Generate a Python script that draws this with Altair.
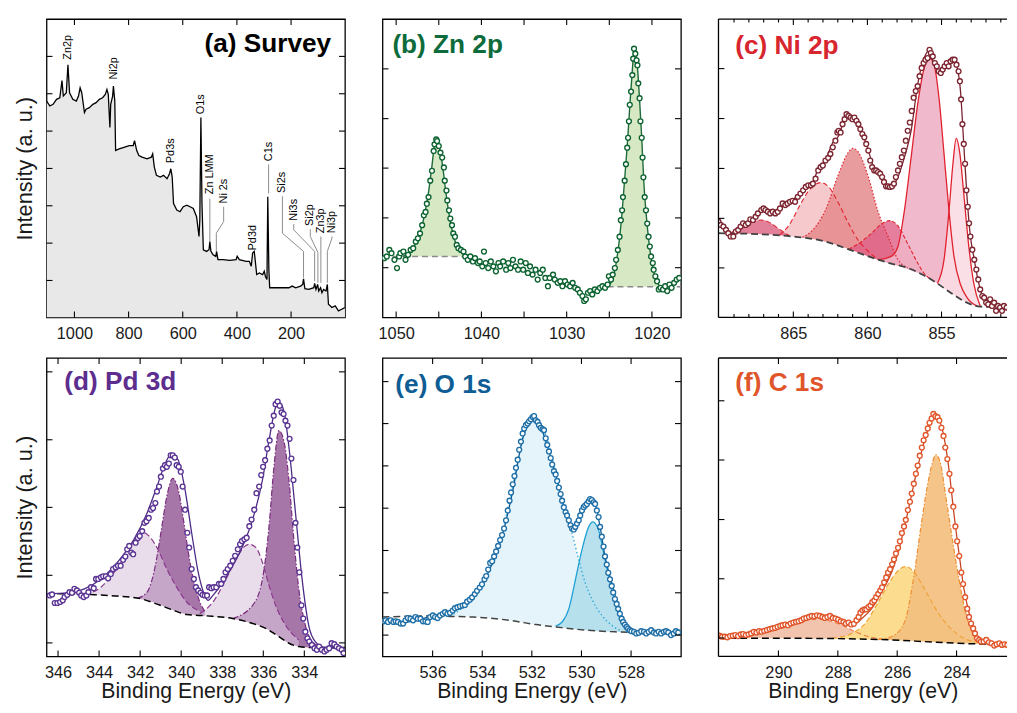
import altair as alt
import pandas as pd

FONT = "Liberation Sans"
INK = "#1a1a1a"

# ---------------- (a) Survey ----------------
survey_pts = [(1103, 655), (1091, 640), (1079, 645), (1066, 660), (1054, 665), (1046, 717), (1041, 670), (1030, 680),
              (1024, 765), (1018, 680), (1006, 660), (993, 655), (985, 670), (979, 695), (973, 680), (963, 620),
              (957, 630), (945, 635), (932, 645), (920, 650), (908, 660), (896, 665), (886, 675), (880, 690),
              (875, 675), (872, 625), (869, 575), (866, 645), (859, 670), (856, 700), (851, 655), (848, 505),
              (835, 510), (817, 515), (798, 520), (783, 520), (778, 535), (770, 505), (762, 490), (750, 485),
              (732, 480), (716, 485), (711, 495), (705, 455), (697, 430), (683, 425), (671, 430), (658, 420),
              (649, 435), (644, 450), (639, 425), (634, 345), (622, 325), (610, 320), (598, 335), (585, 340),
              (573, 335), (561, 330), (549, 305), (540, 245), (537, 295), (533, 605), (529, 345), (524, 205),
              (512, 200), (503, 205), (500, 230), (496, 200), (488, 190), (478, 185), (475, 200), (470, 175),
              (451, 175), (427, 173), (403, 175), (399, 185), (391, 175), (366, 170), (354, 170), (347, 155),
              (342, 195), (336, 200), (332, 170), (327, 130), (317, 135), (305, 130), (299, 140), (295, 125),
              (289, 115), (286, 365), (282, 145), (279, 90), (257, 90), (232, 90), (208, 90), (196, 95),
              (183, 90), (165, 95), (157, 100), (154, 117), (149, 87), (135, 85), (116, 90), (113, 103),
              (108, 85), (102, 100), (98, 80), (91, 90), (86, 75), (80, 85), (71, 80), (66, 100), (62, 40),
              (49, 30), (37, 35), (25, 20), (13, 25), (1, 30)]
survey_labels = [("Zn2p", 1024, 780), ("Ni2p", 853, 720), ("Pd3s", 644, 467), ("O1s", 533, 615),
                 ("Zn LMM", 500, 373), ("Ni 2s", 449, 345), ("Pd3d", 342, 203), ("C1s", 283, 473),
                 ("Si2s", 232, 377), ("Ni3s", 190, 293), ("Si2p", 129, 277), ("Zn3p", 90, 255), ("Ni3p", 49, 255)]
survey_leaders = {
    "Zn LMM": [(500, 360), (500, 230)],
    "Ni 2s": [(449, 335), (449, 290), (476, 255), (476, 200)],
    "C1s": [(283, 463), (283, 375)],
    "Si2s": [(232, 367), (232, 255), (154, 200), (154, 120)],
    "Ni3s": [(190, 283), (190, 265), (113, 200), (113, 110)],
    "Si2p": [(129, 267), (129, 245), (101, 197), (101, 105)],
    "Zn3p": [(90, 245), (90, 105)],
    "Ni3p": [(49, 245), (49, 240), (66, 200), (66, 105)],
}
survey_xticks = [1000, 800, 600, 400, 200]
survey_yticks = [112, 225, 338, 451, 564, 677, 790]

# ---------------- (b) Zn 2p ----------------
zn_pts = [(1051.4, 180), (1051.1, 185), (1050.8, 205), (1050.55, 195), (1050.2, 175), (1049.9, 150), (1049.65, 185),
          (1049.5, 195), (1049.15, 200), (1048.9, 175), (1048.6, 190), (1048.3, 205), (1048.0, 210), (1047.7, 230),
          (1047.45, 240), (1047.2, 255), (1046.95, 280), (1046.75, 310), (1046.55, 320), (1046.4, 345), (1046.2, 365),
          (1046.0, 415), (1045.8, 445), (1045.6, 505), (1045.5, 525), (1045.3, 540), (1045.2, 535), (1045.0, 520),
          (1044.8, 500), (1044.6, 485), (1044.4, 455), (1044.3, 415), (1044.1, 385), (1044.0, 355), (1043.8, 325),
          (1043.65, 300), (1043.45, 280), (1043.3, 255), (1043.1, 245), (1042.9, 220), (1042.7, 210), (1042.4, 205),
          (1042.1, 200), (1041.9, 185), (1041.6, 175), (1041.3, 185), (1041.0, 170), (1040.75, 180), (1040.4, 165),
          (1040.2, 170), (1039.9, 155), (1039.7, 200), (1039.5, 165), (1039.2, 150), (1038.9, 170), (1038.6, 155),
          (1038.3, 140), (1038.0, 165), (1037.8, 155), (1037.45, 170), (1037.1, 145), (1036.85, 165), (1036.6, 150),
          (1036.3, 175), (1036.0, 155), (1035.7, 145), (1035.4, 170), (1035.1, 145), (1034.8, 165), (1034.55, 135),
          (1034.3, 155), (1034.0, 130), (1033.65, 145), (1033.4, 115), (1033.1, 135), (1032.8, 145), (1032.5, 120),
          (1032.2, 95), (1032.0, 120), (1031.6, 130), (1031.4, 115), (1031.05, 105), (1030.75, 110), (1030.5, 95),
          (1030.2, 110), (1029.9, 100), (1029.6, 95), (1029.3, 105), (1029.0, 90), (1028.7, 85), (1028.45, 75),
          (1028.15, 65), (1027.95, 50), (1027.75, 55), (1027.5, 75), (1027.25, 80), (1027.0, 70), (1026.7, 85),
          (1026.4, 80), (1026.1, 90), (1025.8, 95), (1025.5, 90), (1025.2, 100), (1025.05, 125), (1024.8, 115),
          (1024.6, 130), (1024.35, 150), (1024.2, 175), (1024.0, 205), (1023.8, 245), (1023.65, 295), (1023.5, 325),
          (1023.4, 365), (1023.2, 415), (1023.05, 465), (1022.9, 515), (1022.8, 545), (1022.7, 595), (1022.6, 645),
          (1022.45, 685), (1022.3, 735), (1022.2, 785), (1022.1, 815), (1021.95, 800), (1021.8, 780), (1021.7, 765),
          (1021.6, 710), (1021.45, 665), (1021.35, 595), (1021.2, 545), (1021.1, 485), (1021.0, 425), (1020.85, 365),
          (1020.7, 325), (1020.55, 285), (1020.4, 245), (1020.25, 215), (1020.1, 185), (1019.9, 165), (1019.8, 145),
          (1019.6, 125), (1019.4, 110), (1019.2, 85), (1019.0, 90), (1018.7, 85), (1018.45, 95), (1018.2, 80),
          (1017.95, 100), (1017.7, 90), (1017.4, 105), (1017.1, 115), (1016.8, 120)]
zn_fit1 = [(1049.2, 186, 185), (1048.6, 192, 185), (1048.0, 212, 185), (1047.5, 235, 185), (1047.0, 275, 185),
           (1046.6, 320, 185), (1046.2, 380, 185), (1045.8, 460, 185), (1045.5, 525, 185), (1045.3, 540, 185),
           (1045.05, 530, 185), (1044.8, 500, 185), (1044.5, 450, 185), (1044.2, 385, 185), (1043.9, 330, 185),
           (1043.6, 285, 185), (1043.3, 250, 185), (1043.0, 225, 185), (1042.6, 205, 185), (1042.1, 192, 185),
           (1041.5, 186, 185), (1041.3, 185, 185)]
zn_fit2 = [(1025.2, 93, 93), (1024.6, 118, 93), (1024.2, 165, 93), (1023.8, 240, 93), (1023.5, 320, 93),
           (1023.2, 420, 93), (1022.9, 520, 93), (1022.6, 640, 93), (1022.3, 750, 93), (1022.1, 810, 93),
           (1021.95, 812, 93), (1021.7, 760, 93), (1021.45, 660, 93), (1021.2, 545, 93), (1020.95, 410, 93),
           (1020.7, 320, 93), (1020.4, 240, 93), (1020.1, 180, 93), (1019.8, 140, 93), (1019.5, 112, 93),
           (1019.1, 96, 93), (1018.8, 93, 93)]
zn_bg_left = [(1051.6, 185), (1041.3, 185)]
zn_bg_right = [(1025.2, 93), (1016.6, 93)]
zn_xmajor = [1050, 1040, 1030, 1020]
zn_xminor = [1045, 1035, 1025]
zn_yticks = [151, 302, 453, 603, 754]

# ---------------- (c) Ni 2p ----------------
ni_pts = [(870.05, 290), (869.9, 280), (869.72, 275), (869.54, 265), (869.39, 255), (869.23, 245), (869.05, 245),
          (868.88, 260), (868.72, 265), (868.56, 275), (868.39, 285), (868.21, 280), (868.05, 285), (867.9, 297),
          (867.72, 295), (867.54, 305), (867.39, 315), (867.16, 325), (867.01, 330), (866.88, 325), (866.72, 320),
          (866.56, 315), (866.39, 320), (866.21, 315), (866.05, 320), (865.9, 330), (865.72, 345), (865.54, 340),
          (865.39, 345), (865.23, 350), (865.05, 353), (864.88, 350), (864.7, 365), (864.52, 375), (864.34, 385),
          (864.16, 395), (863.99, 400), (863.81, 400), (863.68, 405), (863.5, 420), (863.32, 445), (863.16, 455),
          (863.01, 460), (862.83, 475), (862.65, 483), (862.5, 495), (862.34, 515), (862.16, 535), (862.03, 560),
          (861.94, 565), (861.81, 560), (861.68, 585), (861.54, 600), (861.41, 615), (861.28, 610), (861.14, 605),
          (861.01, 600), (860.88, 605), (860.74, 595), (860.61, 585), (860.48, 570), (860.34, 555), (860.21, 545),
          (860.08, 525), (859.94, 505), (859.81, 475), (859.68, 455), (859.54, 445), (859.41, 445), (859.28, 440),
          (859.14, 435), (859.01, 425), (858.88, 410), (858.74, 397), (858.61, 397), (858.48, 395), (858.34, 397),
          (858.21, 405), (858.08, 425), (857.94, 445), (857.81, 465), (857.68, 485), (857.54, 505), (857.41, 535),
          (857.28, 565), (857.14, 590), (857.01, 625), (856.88, 665), (856.74, 685), (856.61, 700), (856.48, 730),
          (856.34, 755), (856.21, 770), (856.08, 780), (855.94, 785), (855.81, 810), (855.72, 800), (855.59, 790),
          (855.45, 770), (855.32, 760), (855.19, 745), (855.05, 740), (854.92, 750), (854.79, 760), (854.65, 770),
          (854.52, 760), (854.39, 775), (854.25, 780), (854.12, 780), (853.99, 765), (853.85, 745), (853.76, 715),
          (853.68, 660), (853.59, 585), (853.5, 525), (853.41, 465), (853.32, 385), (853.23, 335), (853.14, 285),
          (853.05, 245), (852.92, 205), (852.79, 175), (852.65, 145), (852.52, 115), (852.39, 85), (852.25, 65),
          (852.12, 60), (851.99, 45), (851.85, 40), (851.72, 55), (851.59, 35), (851.45, 45), (851.32, 20),
          (851.19, 35), (851.05, 30), (850.92, 20), (850.79, 35), (850.6, 30), (850.4, 25), (850.2, 32), (850.0, 28)]
ni_env = [(870.05, 285), (869.5, 265), (869.05, 250), (868.39, 275), (867.28, 320), (866.94, 330), (866.16, 320),
          (865.72, 340), (865.05, 355), (864.39, 385), (863.72, 405), (863.28, 455), (862.83, 475), (862.39, 525),
          (861.94, 550), (861.5, 605), (861.28, 615), (860.83, 600), (860.39, 565), (859.94, 505), (859.5, 445),
          (859.05, 425), (858.61, 395), (858.28, 400), (857.94, 425), (857.5, 485), (857.05, 565), (856.61, 705),
          (856.17, 785), (855.83, 808), (855.5, 765), (855.05, 745), (854.61, 765), (854.16, 775), (853.94, 755),
          (853.72, 685), (853.5, 525), (853.28, 365), (853.05, 245), (852.83, 185), (852.61, 130), (852.28, 70),
          (851.72, 45), (851.28, 33), (850.72, 30), (850.0, 30)]
ni_bg = [(870.05, 255), (867.28, 252), (865.05, 245), (862.83, 230), (861.5, 210), (859.94, 185), (858.39, 163),
         (857.28, 150), (856.17, 127), (855.28, 103), (854.39, 75), (853.28, 45), (852.39, 33), (850.0, 31)]
ni_p1 = [(869.28, 255, 254), (868.61, 270, 253), (867.94, 287, 253), (867.16, 295, 252), (866.5, 285, 251),
         (865.94, 267, 249), (865.28, 248, 246)]
ni_p2 = [(865.94, 249, 249), (865.28, 280, 246), (864.61, 335, 243), (863.94, 385, 239), (863.16, 408, 233),
         (862.61, 395, 227), (861.94, 345, 218), (861.28, 285, 207), (860.61, 233, 197), (859.94, 200, 185),
         (859.28, 175, 175)]
ni_p3 = [(864.39, 243, 243), (863.72, 263, 238), (862.83, 325, 230), (861.94, 435, 218), (861.28, 500, 207),
         (860.99, 512, 203), (860.61, 500, 197), (859.94, 425, 185), (859.28, 320, 175), (858.61, 245, 166),
         (857.94, 175, 157), (857.28, 150, 150)]
ni_p4 = [(861.28, 207, 207), (860.61, 223, 197), (859.72, 255, 182), (859.05, 283, 172), (858.5, 293, 164),
         (857.94, 277, 157), (857.28, 223, 150), (856.61, 165, 137), (856.17, 133, 127), (855.61, 113, 113)]
ni_p5 = [(859.28, 175, 175), (858.39, 185, 163), (857.94, 215, 157), (857.5, 325, 150), (857.05, 485, 142),
         (856.61, 645, 135), (856.17, 755, 127), (855.83, 785, 119), (855.5, 765, 110), (855.16, 660, 100),
         (854.83, 495, 89), (854.5, 325, 79), (854.16, 185, 69), (853.72, 100, 57), (853.28, 60, 45),
         (852.61, 35, 35)]
ni_p6 = [(855.28, 103, 103), (854.83, 175, 89), (854.5, 320, 79), (854.23, 465, 71), (854.01, 542, 65),
         (853.76, 495, 58), (853.5, 375, 50), (853.16, 215, 42), (852.83, 105, 37), (852.39, 35, 33)]
ni_xmajor = [865, 860, 855]
ni_xminor = [869, 868, 867, 866, 864, 863, 862, 861, 859, 858, 857, 856, 854, 853, 852, 851]
ni_yticks = [150, 300, 451, 602, 753]

# ---------------- (d) Pd 3d ----------------
pd_pts = [(346.40, 185), (346.29, 188), (346.16, 162), (346.03, 162), (345.90, 165), (345.77, 170), (345.68, 180),
          (345.55, 187), (345.44, 195), (345.32, 193), (345.20, 205), (345.08, 200), (344.97, 193), (344.87, 185),
          (344.75, 180), (344.62, 185), (344.52, 195), (344.39, 210), (344.26, 207), (344.15, 235), (344.04, 235),
          (343.91, 240), (343.80, 243), (343.67, 243), (343.56, 237), (343.43, 250), (343.32, 265), (343.19, 270),
          (343.08, 275), (342.95, 275), (342.83, 293), (342.72, 303), (342.63, 325), (342.53, 335), (342.43, 315),
          (342.34, 310), (342.22, 345), (342.11, 359), (342.02, 365), (341.90, 380), (341.79, 405), (341.69, 410),
          (341.58, 420), (341.47, 445), (341.37, 450), (341.26, 465), (341.18, 500), (341.08, 515), (340.99, 545),
          (340.89, 570), (340.79, 580), (340.70, 575), (340.60, 585), (340.51, 610), (340.41, 610), (340.31, 603),
          (340.22, 580), (340.12, 575), (340.02, 560), (339.93, 515), (339.81, 445), (339.70, 375), (339.61, 330),
          (339.49, 265), (339.38, 235), (339.28, 210), (339.17, 200), (339.06, 193), (338.96, 187), (338.85, 185),
          (338.74, 185), (338.64, 210), (338.53, 207), (338.42, 210), (338.29, 210), (338.16, 220), (338.05, 220),
          (337.94, 235), (337.84, 255), (337.73, 265), (337.61, 275), (337.49, 290), (337.37, 305), (337.24, 325),
          (337.13, 340), (337.04, 350), (336.92, 355), (336.81, 360), (336.68, 395), (336.57, 415), (336.44, 445),
          (336.33, 495), (336.20, 515), (336.10, 550), (336.01, 575), (335.91, 595), (335.80, 630), (335.69, 655),
          (335.59, 700), (335.49, 730), (335.40, 765), (335.30, 773), (335.20, 760), (335.11, 740), (335.01, 735),
          (334.92, 715), (334.82, 700), (334.72, 660), (334.63, 600), (334.53, 535), (334.43, 405), (334.34, 330),
          (334.24, 255), (334.14, 155), (334.05, 115), (333.95, 75), (333.85, 55), (333.76, 45), (333.63, 35),
          (333.50, 25), (333.39, 20), (333.28, 30), (333.15, 20), (333.02, 15), (332.91, 20), (332.79, 25),
          (332.67, 40), (332.54, 37), (332.43, 30), (332.31, 25), (332.18, 20), (332.09, 10)]
pd_env = [(346.56, 190), (345.52, 193), (344.71, 205), (343.91, 235), (343.11, 285), (342.30, 355), (341.66, 435),
          (341.18, 515), (340.78, 585), (340.46, 615), (340.14, 595), (339.81, 505), (339.49, 375), (339.17, 255),
          (338.85, 185), (338.69, 170), (338.45, 185), (337.97, 225), (337.49, 275), (337.00, 335), (336.52, 415),
          (336.04, 535), (335.72, 655), (335.40, 755), (335.24, 770), (335.00, 745), (334.75, 635), (334.43, 435),
          (334.11, 235), (333.79, 95), (333.47, 45), (332.99, 27), (332.02, 25)]
pd_bg = [(346.56, 190), (345.52, 190), (344.23, 187), (343.11, 183), (341.98, 175), (341.02, 155), (340.38, 140),
         (339.73, 127), (338.77, 123), (337.49, 115), (336.52, 100), (335.88, 85), (335.24, 60), (334.75, 40),
         (334.27, 30), (333.63, 27), (332.02, 27)]
pd_pa = [(344.71, 188, 188), (343.91, 210, 186), (343.27, 255, 184), (342.63, 315, 180), (342.14, 360, 176),
         (341.82, 375, 173), (341.50, 360, 167), (341.18, 330, 159), (340.70, 265, 147), (340.22, 210, 137),
         (339.73, 165, 127), (339.09, 137, 124)]
pd_pb = [(342.14, 176, 176), (341.66, 195, 170), (341.26, 275, 162), (340.94, 395, 155), (340.70, 485, 147),
         (340.41, 540, 141), (340.14, 505, 135), (339.89, 415, 130), (339.65, 315, 127), (339.41, 235, 126),
         (339.09, 165, 124), (338.85, 137, 123)]
pd_pc = [(339.09, 130, 124), (338.45, 165, 120), (337.81, 235, 117), (337.32, 295, 112), (336.92, 333, 107),
         (336.68, 340, 103), (336.36, 330, 97), (336.04, 285, 90), (335.72, 215, 80), (335.40, 155, 67),
         (334.92, 95, 47), (334.27, 50, 30)]
pd_pd = [(337.49, 115, 115), (336.52, 155, 100), (336.04, 235, 90), (335.72, 395, 80), (335.48, 575, 71),
         (335.24, 685, 60), (335.00, 655, 50), (334.75, 535, 40), (334.51, 355, 35), (334.27, 205, 30),
         (333.95, 95, 28), (333.55, 40, 27), (332.99, 27, 27)]
pd_xticks = [346, 344, 342, 340, 338, 336, 334]
pd_yticks = [41, 246, 452, 657, 863]

# ---------------- (e) O 1s ----------------
o_pts = [(537.98, 107), (537.89, 110), (537.80, 105), (537.69, 110), (537.58, 105), (537.49, 107), (537.40, 105),
         (537.29, 100), (537.19, 100), (537.09, 110), (537.00, 117), (536.89, 115), (536.79, 110), (536.69, 120),
         (536.60, 115), (536.49, 115), (536.39, 107), (536.29, 107), (536.20, 105), (536.10, 120), (535.99, 125),
         (535.90, 120), (535.80, 117), (535.70, 125), (535.59, 130), (535.50, 135), (535.40, 130), (535.30, 133),
         (535.19, 140), (535.10, 147), (535.00, 150), (534.90, 153), (534.79, 155), (534.70, 157), (534.61, 167),
         (534.50, 173), (534.41, 180), (534.30, 190), (534.21, 200), (534.10, 210), (534.01, 220), (533.91, 235),
         (533.84, 245), (533.76, 265), (533.68, 285), (533.60, 290), (533.52, 305), (533.44, 320), (533.36, 337),
         (533.28, 355), (533.20, 370), (533.12, 390), (533.04, 415), (532.97, 445), (532.90, 475), (532.84, 500),
         (532.77, 525), (532.70, 550), (532.64, 575), (532.57, 600), (532.51, 630), (532.44, 655), (532.37, 680),
         (532.31, 695), (532.24, 705), (532.17, 710), (532.11, 717), (532.04, 723), (531.97, 730), (531.91, 733),
         (531.84, 720), (531.77, 715), (531.71, 705), (531.64, 697), (531.57, 693), (531.51, 690), (531.44, 665),
         (531.38, 645), (531.31, 625), (531.24, 605), (531.18, 585), (531.11, 565), (531.04, 555), (530.98, 535),
         (530.91, 515), (530.84, 495), (530.78, 475), (530.71, 455), (530.64, 440), (530.58, 430), (530.51, 415),
         (530.44, 400), (530.38, 390), (530.31, 387), (530.25, 395), (530.18, 405), (530.11, 415), (530.05, 430),
         (529.98, 445), (529.91, 455), (529.85, 460), (529.78, 465), (529.71, 473), (529.65, 480), (529.58, 477),
         (529.51, 470), (529.45, 465), (529.38, 445), (529.31, 425), (529.25, 395), (529.18, 365), (529.11, 335),
         (529.05, 305), (528.98, 280), (528.92, 255), (528.85, 235), (528.78, 215), (528.72, 195), (528.65, 175),
         (528.58, 160), (528.52, 145), (528.45, 130), (528.38, 115), (528.32, 105), (528.25, 97), (528.18, 90),
         (528.12, 85), (528.05, 80), (527.98, 77), (527.88, 75), (527.79, 70), (527.69, 72), (527.59, 77),
         (527.48, 75), (527.39, 70), (527.29, 75), (527.19, 80), (527.08, 73), (526.99, 70), (526.89, 75),
         (526.79, 70), (526.68, 75), (526.59, 77), (526.50, 73), (526.39, 65), (526.28, 70), (526.19, 77),
         (526.10, 73)]
o_env = [(538.02, 110), (537.03, 105), (535.96, 125), (535.03, 145), (534.37, 180), (533.70, 265), (533.17, 375),
         (532.77, 505), (532.37, 665), (532.11, 715), (531.91, 730), (531.64, 700), (531.31, 625), (531.04, 555),
         (530.78, 475), (530.51, 415), (530.31, 390), (530.11, 415), (529.85, 460), (529.65, 480), (529.45, 465),
         (529.25, 395), (529.05, 305), (528.78, 225), (528.52, 155), (528.25, 100), (527.98, 77), (527.45, 70),
         (526.06, 70)]
o_bg = [(538.02, 120), (536.36, 123), (535.30, 122), (534.37, 120), (533.44, 115), (532.64, 107), (531.84, 97),
        (531.04, 90), (530.24, 83), (529.45, 78), (528.65, 75), (527.98, 73)]
o_p1 = [(535.30, 123, 122), (534.77, 150, 121), (534.23, 195, 120), (533.70, 275, 117), (533.30, 355, 114),
        (532.90, 475, 110), (532.51, 615, 106), (532.24, 695, 102), (531.97, 727, 99), (531.71, 710, 96),
        (531.44, 675, 94), (531.17, 605, 91), (530.91, 515, 89), (530.64, 435, 86), (530.38, 375, 84),
        (530.11, 295, 82), (529.85, 225, 80), (529.58, 175, 78), (529.18, 125, 77), (528.78, 95, 76),
        (528.38, 77, 74)]
o_p2 = [(531.04, 93, 90), (530.78, 105, 88), (530.51, 145, 86), (530.24, 235, 83), (529.98, 325, 81),
        (529.71, 395, 79), (529.54, 410, 78), (529.31, 385, 77), (529.05, 295, 76), (528.78, 205, 76),
        (528.52, 135, 75), (528.25, 90, 74), (527.98, 75, 73)]
o_xticks = [536, 534, 532, 530, 528]
o_yticks = [65, 194, 323, 452, 581, 710, 838]

# ---------------- (f) C 1s ----------------
c_pts = [(291.99, 63), (291.90, 60), (291.81, 60), (291.72, 58), (291.63, 62), (291.54, 63), (291.45, 65),
         (291.36, 62), (291.27, 67), (291.19, 68), (291.10, 65), (291.01, 67), (290.92, 70), (290.83, 75),
         (290.74, 73), (290.65, 77), (290.57, 75), (290.48, 78), (290.39, 80), (290.30, 83), (290.21, 85),
         (290.12, 87), (290.03, 90), (289.94, 93), (289.86, 95), (289.77, 97), (289.68, 95), (289.59, 100),
         (289.50, 103), (289.41, 105), (289.32, 107), (289.23, 110), (289.15, 115), (289.06, 117), (288.97, 120),
         (288.88, 123), (288.79, 122), (288.70, 125), (288.61, 123), (288.52, 120), (288.44, 117), (288.35, 120),
         (288.26, 123), (288.17, 117), (288.08, 115), (287.99, 112), (287.90, 107), (287.81, 105), (287.73, 100),
         (287.64, 103), (287.55, 97), (287.46, 99), (287.37, 110), (287.30, 120), (287.24, 133), (287.17, 140),
         (287.10, 143), (287.04, 143), (286.97, 150), (286.90, 155), (286.84, 165), (286.77, 170), (286.71, 180),
         (286.64, 190), (286.57, 200), (286.51, 210), (286.44, 225), (286.37, 240), (286.31, 255), (286.24, 265),
         (286.17, 280), (286.11, 295), (286.04, 313), (285.97, 330), (285.91, 350), (285.84, 375), (285.77, 395),
         (285.71, 415), (285.64, 445), (285.57, 470), (285.51, 495), (285.44, 525), (285.37, 555), (285.31, 580),
         (285.24, 610), (285.17, 635), (285.11, 657), (285.04, 673), (284.97, 693), (284.91, 710), (284.84, 723),
         (284.78, 737), (284.71, 730), (284.64, 727), (284.58, 717), (284.51, 695), (284.44, 670), (284.38, 635),
         (284.31, 600), (284.24, 555), (284.18, 505), (284.11, 455), (284.04, 395), (283.98, 350), (283.91, 305),
         (283.84, 255), (283.78, 220), (283.71, 180), (283.64, 145), (283.58, 120), (283.51, 100), (283.44, 85),
         (283.38, 70), (283.31, 55), (283.24, 50), (283.18, 45), (283.09, 45), (283.00, 50), (282.91, 43),
         (282.82, 40), (282.73, 33), (282.65, 37), (282.56, 40), (282.47, 35), (282.38, 37), (282.29, 35),
         (282.20, 33), (282.10, 36), (282.00, 34)]
c_env = [(292.02, 62), (291.19, 65), (290.41, 75), (289.74, 93), (289.19, 115), (288.69, 125), (288.19, 120),
         (287.75, 105), (287.41, 100), (287.19, 115), (286.86, 145), (286.53, 195), (286.19, 255), (285.97, 315),
         (285.75, 395), (285.53, 485), (285.31, 575), (285.08, 655), (284.92, 700), (284.75, 735), (284.59, 720),
         (284.42, 665), (284.25, 565), (284.09, 435), (283.92, 315), (283.75, 205), (283.53, 115), (283.31, 60),
         (283.09, 43), (282.31, 37), (281.98, 37)]
c_bg = [(292.02, 55), (289.52, 55), (287.30, 53), (286.19, 50), (285.08, 45), (283.98, 40), (282.31, 37),
        (281.98, 37)]
c_p1 = [(291.74, 57, 55), (290.85, 65, 55), (290.08, 80, 55), (289.52, 97, 55), (289.08, 109, 54),
        (288.69, 113, 54), (288.30, 109, 54), (287.86, 95, 54), (287.41, 75, 53), (286.97, 60, 52),
        (286.53, 53, 51)]
c_p2 = [(288.19, 55, 54), (287.53, 70, 53), (287.08, 100, 52), (286.64, 165, 51), (286.19, 235, 50),
        (285.92, 265, 49), (285.70, 273, 48), (285.42, 255, 47), (285.08, 205, 45), (284.64, 135, 43),
        (284.20, 85, 41), (283.75, 55, 40), (283.31, 43, 39)]
c_p3 = [(286.64, 51, 51), (286.19, 60, 50), (285.75, 105, 48), (285.42, 255, 47), (285.20, 395, 46),
        (284.97, 525, 45), (284.81, 590, 44), (284.70, 613, 44), (284.55, 590, 43), (284.36, 485, 42),
        (284.14, 355, 41), (283.92, 235, 40), (283.70, 135, 40), (283.48, 75, 39), (283.25, 45, 38)]
c_xticks = [290, 288, 286, 284]
c_yticks = [56, 236, 416, 597, 777]

W, H = 302, 302      # full panels
WR = 292             # right-hand panels, cut by the page edge as in the original figure


# ---------------- helpers ----------------
def encodings(xdom, ydom, xt, ytitle, xtitle):
    xa = dict(values=xt, format="d", ticks=False, tickSize=0, domain=False, grid=False,
              labelFont=FONT, labelFontSize=16.5, labelColor=INK, labelPadding=8)
    if xtitle:
        xa.update(title=xtitle, titleFont=FONT, titleFontSize=21.5, titleFontWeight="normal",
                  titleColor=INK, titlePadding=0)
    else:
        xa.update(title=None)
    X = alt.X("e:Q", scale=alt.Scale(domain=xdom, nice=False, zero=False), axis=alt.Axis(**xa))
    if ytitle:
        Y = alt.Y("i:Q", scale=alt.Scale(domain=ydom, nice=False, zero=False),
                  axis=alt.Axis(title=ytitle, labels=False, ticks=False, tickSize=0, domain=False, grid=False,
                                titleFont=FONT, titleFontSize=22, titleFontWeight="normal",
                                titleColor=INK, titlePadding=10))
    else:
        Y = alt.Y("i:Q", scale=alt.Scale(domain=ydom, nice=False, zero=False), axis=None)
    return X, Y


def frame(X, Y, w, xmajor, xminor, yt, minlen=6, right=True, border=False):
    out = []
    for ticks, L in ((xmajor, 6), (xminor, minlen)):
        if not ticks:
            continue
        base = alt.Chart(pd.DataFrame({"e": ticks})).mark_rule(color="black", strokeWidth=1.1)
        out.append(base.encode(x=X, y=alt.value(H - L), y2=alt.value(H)))
        out.append(base.encode(x=X, y=alt.value(0), y2=alt.value(L)))
    base = alt.Chart(pd.DataFrame({"i": yt})).mark_rule(color="black", strokeWidth=1.1)
    out.append(base.encode(y=Y, x=alt.value(0), x2=alt.value(6)))
    if right:
        out.append(base.encode(y=Y, x=alt.value(w - 6), x2=alt.value(w)))
    if border:
        one = alt.Chart(pd.DataFrame({"k": [0]})).mark_rule(color="black", strokeWidth=1.3)
        out.append(one.encode(x=alt.value(0), y=alt.value(0), y2=alt.value(H)))
        out.append(one.encode(y=alt.value(0), x=alt.value(0), x2=alt.value(w)))
        out.append(one.encode(y=alt.value(H), x=alt.value(0), x2=alt.value(w)))
    return out


def band(X, Y, pts, fill, opacity=1.0):
    df = pd.DataFrame(pts, columns=["e", "i", "b"])
    return alt.Chart(df).mark_area(color=fill, opacity=opacity, interpolate="monotone", clip=True).encode(
        x=X, y=Y, y2=alt.Y2("b:Q"))


def curve(X, Y, pts, color, width=1.2, dash=None, interp="monotone"):
    df = pd.DataFrame([(p[0], p[1]) for p in pts], columns=["e", "i"])
    kw = dict(color=color, strokeWidth=width, interpolate=interp, clip=True)
    if dash:
        kw["strokeDash"] = dash
    return alt.Chart(df).mark_line(**kw).encode(x=X, y=Y)


def dots(X, Y, pts, color):
    df = pd.DataFrame(pts, columns=["e", "i"])
    return alt.Chart(df).mark_point(shape="circle", filled=True, fill="white", stroke=color, strokeWidth=1.4,
                                    size=24, opacity=1, clip=True).encode(x=X, y=Y)


def title(text, color, x, y, align="left"):
    return alt.Chart(pd.DataFrame({"t": [text]})).mark_text(
        align=align, baseline="alphabetic", font=FONT, fontSize=26.5, fontWeight="bold", color=color
    ).encode(x=alt.value(x), y=alt.value(y), text="t:N")


# ---------------- (a) ----------------
X, Y = encodings([1103, 1], [0, 903], survey_xticks, "Intensity (a. u.)", None)
sdf = pd.DataFrame(survey_pts, columns=["e", "i"])
lab_df = pd.DataFrame(survey_labels, columns=["t", "e", "i"])
lead_rows = []
for name, seg in survey_leaders.items():
    for k, (e, i) in enumerate(seg):
        lead_rows.append({"g": name, "o": k, "e": e, "i": i})
lead_df = pd.DataFrame(lead_rows)
pa = alt.layer(
    alt.Chart(sdf).mark_area(color="#e7e8e7", clip=True).encode(x=X, y=Y),
    alt.Chart(sdf).mark_line(color="black", strokeWidth=1.3, clip=True).encode(x=X, y=Y),
    alt.Chart(lead_df).mark_line(color="#8c8c8c", strokeWidth=1).encode(x=X, y=Y, detail="g:N", order="o:Q"),
    alt.Chart(lab_df).mark_text(angle=270, align="left", baseline="middle", font=FONT, fontSize=11,
                                color="black").encode(x=X, y=Y, text="t:N"),
    *frame(X, Y, W, survey_xticks, [], survey_yticks),
    title("(a) Survey", "black", 288, 33, "right"),
).properties(width=W, height=H)

# ---------------- (b) ----------------
X, Y = encodings([1051.6, 1016.6], [0, 905], zn_xmajor, None, None)
pb = alt.layer(
    band(X, Y, zn_fit1, "#d7e8c5"),
    band(X, Y, zn_fit2, "#d7e8c5"),
    curve(X, Y, zn_bg_left, "#8a8a8a", 1.5, [6, 4], "linear"),
    curve(X, Y, zn_bg_right, "#8a8a8a", 1.5, [6, 4], "linear"),
    curve(X, Y, zn_fit1, "#1d6b3a", 1.4),
    curve(X, Y, zn_fit2, "#1d6b3a", 1.4),
    dots(X, Y, zn_pts, "#0c6330"),
    *frame(X, Y, W, zn_xmajor, zn_xminor, zn_yticks),
    title("(b) Zn 2p", "#0d6b3c", 10, 34),
).properties(width=W, height=H)

# ---------------- (c) ----------------
X, Y = encodings([870.05, 850.58], [0, 903], ni_xmajor, None, None)
R = "#e0222e"
pc = alt.layer(
    band(X, Y, ni_p2, "#f5c3c6", 0.9),
    band(X, Y, ni_p1, "#dc6a86", 0.85),
    band(X, Y, ni_p3, "#e58b8d", 0.85),
    band(X, Y, ni_p4, "#df5f84", 0.8),
    band(X, Y, ni_p5, "#efb3c6", 0.9),
    band(X, Y, ni_p6, "#f9dbe4", 0.9),
    curve(X, Y, ni_p1, R, 1.1, [5, 3]),
    curve(X, Y, ni_p2, R, 1.1, [5, 3]),
    curve(X, Y, ni_p3, R, 1.2, [1.5, 2]),
    curve(X, Y, ni_p4, R, 1.1, [4, 2]),
    curve(X, Y, ni_p5, R, 1.3),
    curve(X, Y, ni_p6, R, 1.3),
    curve(X, Y, ni_bg, "#404040", 1.8, [7, 4]),
    curve(X, Y, ni_env, "#7a2230", 1.3),
    dots(X, Y, ni_pts, "#7d2530"),
    *frame(X, Y, WR, ni_xmajor, ni_xminor, ni_yticks, minlen=3.5, right=False, border=True),
    title("(c) Ni 2p", "#d8262f", 17, 35),
).properties(width=WR, height=H, view=alt.ViewBackground(stroke="transparent"))

# ---------------- (d) ----------------
X, Y = encodings([346.56, 332.02], [0, 905], pd_xticks, "Intensity (a. u.)", "Binding Energy (eV)")
P = "#7a2d7f"
pdp = alt.layer(
    band(X, Y, pd_pb, "#a676a8"),
    band(X, Y, pd_pd, "#a676a8"),
    band(X, Y, pd_pa, "#dcc6dd", 0.6),
    band(X, Y, pd_pc, "#dcc6dd", 0.6),
    curve(X, Y, pd_pa, "#8a3a8c", 1.2, [6, 3]),
    curve(X, Y, pd_pc, "#8a3a8c", 1.2, [6, 3]),
    curve(X, Y, pd_pb, P, 1.2, [6, 2, 1.5, 2]),
    curve(X, Y, pd_pd, P, 1.2, [6, 2, 1.5, 2]),
    curve(X, Y, pd_bg, "black", 1.5, [7, 4]),
    curve(X, Y, pd_env, "#4b2a85", 1.3),
    dots(X, Y, pd_pts, "#5b3494"),
    *frame(X, Y, W, pd_xticks, [], pd_yticks),
    title("(d) Pd 3d", "#5e2e8f", 18, 32),
).properties(width=W, height=H)

# ---------------- (e) ----------------
X, Y = encodings([538.02, 525.99], [0, 910], o_xticks, None, "Binding Energy (eV)")
pe = alt.layer(
    band(X, Y, o_p1, "#e5f4fa"),
    band(X, Y, o_p2, "#b4deec", 0.95),
    curve(X, Y, o_p1, "#2aa6d8", 1.3, [1.5, 2.5]),
    curve(X, Y, o_p2, "#1fa0d6", 1.3),
    curve(X, Y, o_bg, "#444444", 1.5, [7, 4]),
    curve(X, Y, o_env, "#0c5a92", 1.3),
    dots(X, Y, o_pts, "#1f6fa8"),
    *frame(X, Y, W, o_xticks, [], o_yticks),
    title("(e) O 1s", "#0e5d94", 13, 35),
).properties(width=W, height=H)

# ---------------- (f) ----------------
X, Y = encodings([292.02, 282.30], [0, 907], c_xticks, None, "Binding Energy (eV)")
pf = alt.layer(
    band(X, Y, c_p1, "#f3c4ad"),
    band(X, Y, c_p2, "#fcdc8e"),
    band(X, Y, c_p3, "#f3bf7f", 0.92),
    curve(X, Y, c_p1, "#ee7d4a", 1.2, [5, 3]),
    curve(X, Y, c_p2, "#f0a23a", 1.2, [5, 3]),
    curve(X, Y, c_p3, "#ee8f34", 1.2, [5, 2, 1.5, 2]),
    curve(X, Y, c_bg, "black", 1.5, [7, 4]),
    curve(X, Y, c_env, "#c94321", 1.3),
    dots(X, Y, c_pts, "#e0552a"),
    *frame(X, Y, WR, c_xticks, [], c_yticks, right=False, border=True),
    title("(f) C 1s", "#e0552a", 17, 33),
).properties(width=WR, height=H, view=alt.ViewBackground(stroke="transparent"))

chart = alt.concat(
    pa, pb, pc, pdp, pe, pf, columns=3, spacing={"row": 41, "column": 38}, bounds="flush"
).properties(
    padding={"left": 5, "top": 5, "right": 0, "bottom": 0}
).configure_view(stroke="black", strokeWidth=1.3)

chart.save("out.html", embed_options={"renderer": "svg", "actions": False})
